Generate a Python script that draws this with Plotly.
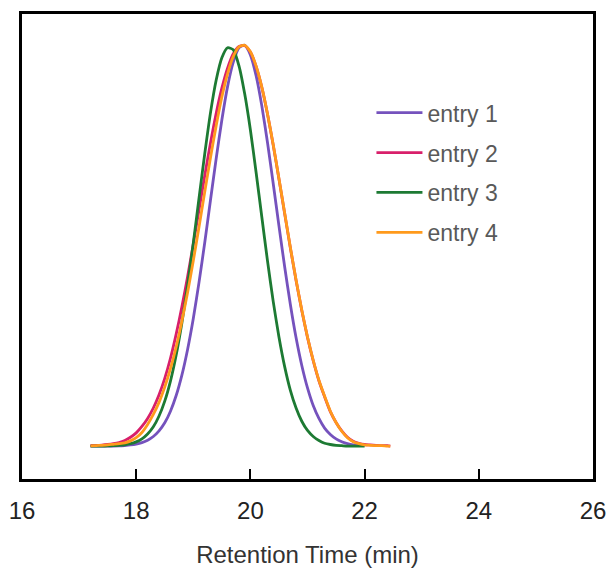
import plotly.graph_objects as go

# Retention time grid (min)
t_short = [round(17.2 + 0.1 * i, 1) for i in range(49)]   # 17.2 .. 22.0
t_long = [round(17.2 + 0.1 * i, 1) for i in range(53)] + [22.45]  # 17.2 .. 22.45

entry1 = [0, 0, 0, 0, 0, 0.0005, 0.0015, 0.0028, 0.005, 0.0087,
          0.0147, 0.024, 0.038, 0.058, 0.087, 0.126, 0.177, 0.241, 0.318, 0.408,
          0.507, 0.612, 0.716, 0.813, 0.896, 0.957, 0.993, 0.999, 0.975, 0.923,
          0.848, 0.756, 0.654, 0.549, 0.447, 0.353, 0.270, 0.201, 0.145, 0.101,
          0.069, 0.045, 0.029, 0.018, 0.011, 0.006, 0.003, 0.002, 0.001]

entry2 = [0.001, 0.0015, 0.0025, 0.004, 0.006, 0.009, 0.014, 0.022, 0.033, 0.049,
          0.069, 0.095, 0.128, 0.169, 0.219, 0.279, 0.347, 0.422, 0.504, 0.589,
          0.674, 0.755, 0.829, 0.892, 0.942, 0.978, 0.996, 0.998, 0.982, 0.946,
          0.894, 0.827, 0.750, 0.666, 0.580, 0.494, 0.413, 0.338, 0.271, 0.213,
          0.163, 0.123, 0.086, 0.059, 0.038, 0.022, 0.012, 0.007, 0.004, 0.003,
          0.002, 0.001, 0.001, 0.0]

entry3 = [0, 0, 0, 0.0004, 0.001, 0.002, 0.0032, 0.0059, 0.0105, 0.018,
          0.030, 0.048, 0.075, 0.112, 0.162, 0.227, 0.307, 0.401, 0.506, 0.618,
          0.728, 0.830, 0.912, 0.968, 0.993, 0.988, 0.948, 0.878, 0.788, 0.682,
          0.571, 0.461, 0.360, 0.272, 0.198, 0.139, 0.095, 0.062, 0.039, 0.024,
          0.014, 0.007, 0.004, 0.002, 0.001, 0, 0, 0, 0]

entry4 = [0.0007, 0.0012, 0.002, 0.003, 0.0045, 0.006, 0.008, 0.013, 0.021, 0.034,
          0.054, 0.079, 0.109, 0.147, 0.193, 0.247, 0.311, 0.383, 0.462, 0.546,
          0.633, 0.718, 0.798, 0.870, 0.928, 0.971, 0.995, 0.999, 0.983, 0.947,
          0.895, 0.828, 0.751, 0.667, 0.581, 0.495, 0.414, 0.339, 0.272, 0.214,
          0.164, 0.124, 0.087, 0.059, 0.037, 0.021, 0.011, 0.006, 0.003, 0.002,
          0.001, 0.001, 0.0, 0.0]

names = ["entry 1", "entry 2", "entry 3", "entry 4"]
colors = ["#7552bd", "#d81f6a", "#1d7a33", "#ff9a1c"]
xs = [t_short, t_long, t_short, t_long]
ys = [entry1, entry2, entry3, entry4]

x_ticks = [16, 18, 20, 22, 24, 26]

fig = go.Figure()
for i in range(4):
    fig.add_trace(go.Scatter(
        x=xs[i], y=ys[i], mode="lines", name=names[i],
        legendgroup=names[i],
        line=dict(color=colors[i], width=2.8, shape="spline", smoothing=0.6),
    ))

fig.update_layout(
    width=611, height=569,
    margin=dict(l=22, r=18, t=14, b=90, autoexpand=False),
    paper_bgcolor="white", plot_bgcolor="white",
    font=dict(family="Liberation Sans, Arial, sans-serif", color="#222"),
    showlegend=True,
    legend=dict(
        x=0.612, y=0.834, xanchor="left", yanchor="top",
        bgcolor="rgba(0,0,0,0)",
        font=dict(size=23, color="#595959"),
        traceorder="grouped", tracegroupgap=7,
        itemwidth=46,
    ),
    xaxis=dict(
        range=[16, 26], tickvals=x_ticks, ticktext=[str(v) for v in x_ticks],
        ticks="inside", ticklen=10, tickwidth=2, tickcolor="black",
        showline=True, linecolor="black", linewidth=2.5, mirror=True,
        showgrid=False, zeroline=False, automargin=False,
        tickfont=dict(size=24, color="#222"),
        ticklabelstandoff=8,
        title=dict(text="Retention Time (min)", font=dict(size=24, color="#333"), standoff=24),
    ),
    yaxis=dict(
        range=[-0.082, 1.077], automargin=False,
        showticklabels=False, ticks="",
        showline=True, linecolor="black", linewidth=2.5, mirror=True,
        showgrid=False, zeroline=False,
    ),
)

fig.write_html(
    "out.html",
    config={"displayModeBar": False},
    post_script="document.body.style.margin='0';document.body.style.overflow='hidden';",
)
